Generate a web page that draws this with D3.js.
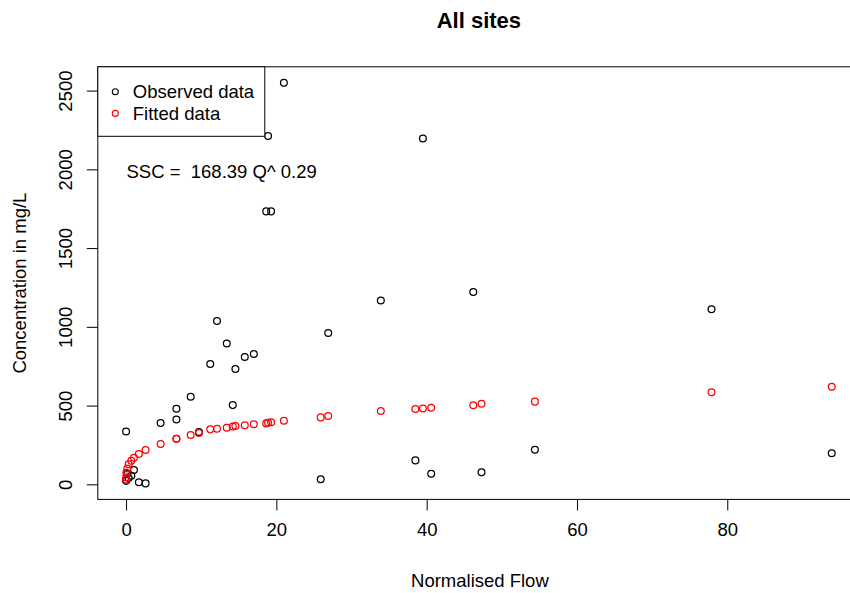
<!DOCTYPE html>
<html><head><meta charset="utf-8">
<script src="https://cdn.jsdelivr.net/npm/d3@7"></script>
<style>
body{margin:0;background:#fff;}
text{font-family:"Liberation Sans",Arial,sans-serif;fill:#000;}
</style></head>
<body><svg id="c" width="850" height="593"></svg>
<script>
const flow = [0.002, 0.01, 0.04, 0.17, 0.35, 0.7, 1.05, 1.7, 2.6, 4.6, 6.7, 6.7, 8.6, 9.7, 11.2, 12.1, 13.4, 14.2, 14.55, 15.8, 17.0, 18.65, 18.9, 19.3, 21.0, 25.9, 26.9, 33.9, 38.5, 39.5, 40.6, 46.2, 47.3, 54.4, 77.9, 93.9];
const observed = [335, 22, 27, 65, 40, 55, 91, 13, 6, 389, 480, 412, 556, 332, 764, 1037, 894, 503, 732, 808, 827, 1733, 2212, 1733, 2549, 32, 961, 1167, 152, 2196, 67, 1221, 76, 220, 1111, 197];
const fitted = [28, 45, 74, 100, 127, 150, 169, 192, 218, 256, 289, 289, 313, 326, 349, 353, 359, 367, 370, 375, 381, 387, 391, 394, 404, 425, 434, 466, 478, 481, 486, 502, 512, 525, 584, 620];
const xTicks = [0, 20, 40, 60, 80];
const yTicks = [0, 500, 1000, 1500, 2000, 2500];
const legendLabels = ["Observed data", "Fitted data"];
const legendColors = ["#000000", "#ff0000"];
const title = "All sites";
const xLabel = "Normalised Flow";
const yLabel = "Concentration in mg/L";
const formula = "SSC =  168.39 Q^ 0.29";

const svg = d3.select("#c");
const x = d3.scaleLinear().domain([-3.76, 97.66]).range([97.8, 860]);
const y = d3.scaleLinear().domain([-95.7, 2651]).range([499.4, 66.8]);
const L = x.range()[0], R = x.range()[1], T = y.range()[1], B = y.range()[0];
const fs = 18.5;

// box
svg.append("rect").attr("x", L).attr("y", T).attr("width", R - L).attr("height", B - T)
  .attr("fill", "none").attr("stroke", "#000").attr("stroke-width", 1);

// x axis
const xa = svg.append("g").attr("transform", `translate(0,${B})`)
  .call(d3.axisBottom(x).tickValues(xTicks).tickSize(11).tickPadding(12).tickSizeOuter(0));
xa.select(".domain").remove();
xa.selectAll("text").attr("font-size", fs).attr("font-family", "Liberation Sans, Arial, sans-serif").attr("fill", "#000");
xa.selectAll("line").attr("stroke", "#000");

// y axis
const ya = svg.append("g").attr("transform", `translate(${L},0)`)
  .call(d3.axisLeft(y).tickValues(yTicks).tickSize(11).tickSizeOuter(0));
ya.select(".domain").remove();
ya.selectAll("line").attr("stroke", "#000");
ya.selectAll("text").remove();
ya.selectAll(".tick").append("text")
  .attr("transform", "translate(-26,0) rotate(-90)")
  .attr("text-anchor", "middle").attr("font-size", fs)
  .text(d => d);

// title & labels
svg.append("text").attr("x", (L + R) / 2).attr("y", 28).attr("text-anchor", "middle")
  .attr("font-size", 22).attr("font-weight", "bold").text(title);
svg.append("text").attr("x", (L + R) / 2 + 1).attr("y", 587).attr("text-anchor", "middle")
  .attr("font-size", fs).text(xLabel);
svg.append("text").attr("transform", `translate(26,${(T + B) / 2}) rotate(-90)`)
  .attr("text-anchor", "middle").attr("font-size", fs).text(yLabel);

// points
const obs = flow.map((f, i) => ({f, v: observed[i]}));
const fit = flow.map((f, i) => ({f, v: fitted[i]}));
svg.append("g").selectAll("circle").data(obs).join("circle")
  .attr("cx", d => x(d.f)).attr("cy", d => y(d.v)).attr("r", 3.4)
  .attr("fill", "none").attr("stroke", legendColors[0]).attr("stroke-width", 1.25);
svg.append("g").selectAll("circle").data(fit).join("circle")
  .attr("cx", d => x(d.f)).attr("cy", d => y(d.v)).attr("r", 3.4)
  .attr("fill", "none").attr("stroke", legendColors[1]).attr("stroke-width", 1.25);

// legend
const lg = svg.append("g");
lg.append("rect").attr("x", L).attr("y", T).attr("width", 167).attr("height", 69.5)
  .attr("fill", "#fff").attr("stroke", "#000").attr("stroke-width", 1);
legendLabels.forEach((lab, i) => {
  const cy = T + 25 + i * 21.6;
  lg.append("circle").attr("cx", L + 17.5).attr("cy", cy).attr("r", 3)
    .attr("fill", "none").attr("stroke", legendColors[i]).attr("stroke-width", 1.1);
  lg.append("text").attr("x", L + 35).attr("y", cy + 6.5).attr("font-size", fs).text(lab);
});

// formula
svg.append("text").attr("x", 126.5).attr("y", 178).attr("font-size", fs)
  .style("white-space", "pre").text(formula);
</script>
</body></html>
